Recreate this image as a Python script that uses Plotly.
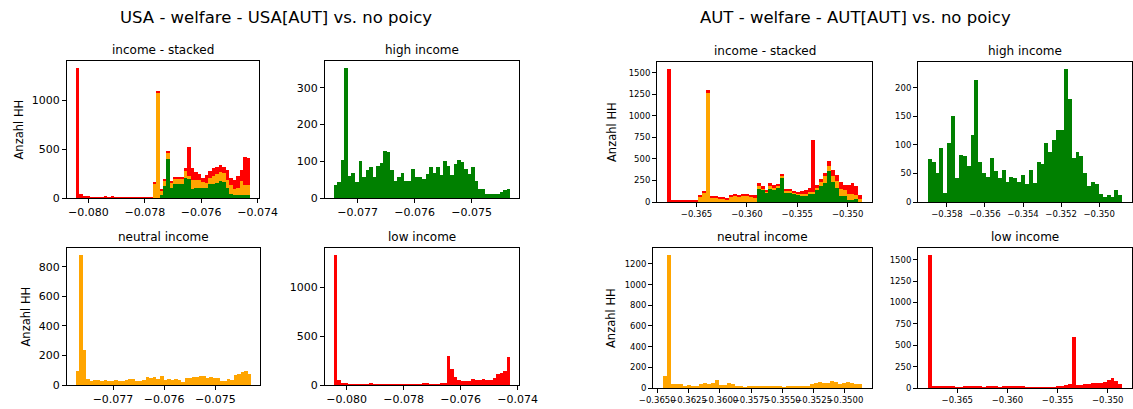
import numpy as np
import plotly.graph_objects as go

RED = "#ff0000"
ORANGE = "#ffa500"
GREEN = "#008000"
W, H = 1133, 409
FONT = "DejaVu Sans"

# ---------------- data: USA ----------------
usa_stack_range = (-0.08045, -0.07426)
usa_stack_high = [0]*24 + [31, 123, 399, 106, 147, 147, 140, 201, 191, 96, 106, 106, 106, 106, 140, 140,
                           157, 170, 160, 100, 45, 35, 30, 35, 30, 30]
usa_stack_neutral = [0]*22 + [147, 1078, 41, 58, 62, 51, 51, 51, 58, 75, 38, 85, 75, 78, 61, 44, 68, 85,
                              92, 100, 95, 80, 85, 60, 75, 140, 100, 100]
usa_stack_low = [1334, 44, 17, 17, 5, 5, 5, 5, 12, 5, 12, 4, 4, 4, 4, 4, 4, 4, 4, 6, 6, 6,
                 17, 14, 17, 17, 20, 17, 17, 17, 17, 35, 297, 129, 84, 61, 38, 85, 67, 80,
                 66, 70, 65, 103, 70, 90, 125, 110, 290, 283]

usa_high_range = (-0.077419, -0.074322)
usa_high = [35, 43, 103, 355, 59, 69, 43, 100, 57, 75, 84, 57, 88, 95, 127, 125, 75, 45, 57, 69,
            45, 45, 78, 57, 57, 51, 65, 84, 68, 84, 62, 100, 86, 62, 92, 103, 98, 80, 66, 84,
            45, 24, 24, 12, 12, 10, 12, 16, 21, 24]

usa_neutral_range = (-0.077728, -0.074298)
usa_neutral = [92, 883, 234, 38, 27, 32, 32, 25, 36, 25, 25, 36, 25, 25, 32, 43, 38, 25, 25, 36,
               52, 47, 52, 38, 59, 32, 41, 32, 41, 32, 20, 50, 45, 56, 52, 59, 59, 45, 56, 45,
               45, 27, 27, 41, 34, 68, 74, 86, 92, 74]

usa_low_range = (-0.08045, -0.07426)
usa_low = [1338, 48, 17, 17, 7, 7, 7, 7, 7, 7, 17, 7, 7, 7, 7, 7, 7, 7, 7, 7,
           7, 10, 10, 10, 10, 17, 17, 10, 10, 10, 17, 17, 294, 160, 82, 48, 38, 38, 38, 61,
           51, 51, 61, 51, 51, 75, 109, 119, 143, 283]

# ---------------- data: AUT ----------------
aut_stack_range = (-0.36795, -0.34855)
aut_stack_high = [0]*23 + [151, 140, 116, 151, 140, 163, 287, 116, 116, 97, 89, 78, 78, 89, 97, 143,
                           186, 225, 357, 233, 163, 70, 70, 27, 27, 39, 8]
aut_stack_neutral = [0]*8 + [66, 105, 1275, 50, 50, 39, 35, 19, 62, 70, 66, 70, 70, 66, 58, 43, 15, 8,
                             43, 23, 23, 23, 12, 20, 15, 8, 15, 15, 27, 19, 20, 47, 77, 58, 69, 77,
                             85, 66, 70, 70, 39, 23]
aut_stack_low = [1550, 27, 15, 15, 15, 15, 15, 15, 4, 23, 23, 16, 16, 15, 15, 24, 19, 19, 16, 19,
                 19, 12, 20, 23, 31, 12, 23, 31, 19, 16, 15, 15, 12, 12, 31, 47, 47, 605, 39, 38,
                 39, 58, 70, 70, 78, 66, 105, 128, 104, 47]

aut_high_range = (-0.359005, -0.348787)
aut_high = [76, 70, 51, 95, 16, 103, 151, 42, 83, 81, 63, 117, 213, 70, 51, 44, 77, 55, 42, 56,
            35, 44, 42, 35, 48, 32, 56, 33, 70, 67, 103, 88, 109, 126, 126, 233, 180, 77, 88, 81,
            51, 28, 35, 32, 14, 9, 12, 8, 21, 13]

aut_neutral_range = (-0.364543, -0.348629)
aut_neutral = [119, 1290, 42, 35, 35, 19, 32, 23, 13, 42, 52, 42, 52, 77, 32, 32, 48, 42, 19, 13,
               3, 23, 13, 23, 13, 13, 13, 13, 13, 13, 3, 13, 13, 13, 23, 23, 23, 35, 48, 61,
               48, 48, 71, 61, 42, 48, 61, 48, 42, 42]

aut_low_range = (-0.36795, -0.34855)
aut_low = [1558, 27, 15, 15, 15, 15, 15, 3, 3, 15, 15, 15, 15, 15, 3, 15, 15, 15, 3, 15,
           15, 15, 15, 15, 15, 3, 3, 3, 3, 3, 3, 3, 3, 15, 27, 39, 50, 592, 31, 39,
           42, 50, 62, 62, 62, 70, 97, 117, 86, 50]

# ---------------- tick values ----------------
usa_wide_ticks = [-0.080, -0.078, -0.076, -0.074]
usa_narrow_ticks = [-0.077, -0.076, -0.075]
aut_stack_ticks = [-0.365, -0.360, -0.355, -0.350]
aut_high_ticks = [-0.358, -0.356, -0.354, -0.352, -0.350]
aut_neutral_ticks = [-0.3650, -0.3625, -0.3600, -0.3575, -0.3550, -0.3525, -0.3500]

titles = ["income - stacked", "high income", "neutral income", "low income"]
suptitles = ["USA - welfare - USA[AUT] vs. no poicy", "AUT - welfare - AUT[AUT] vs. no poicy"]
ylabel = "Anzahl HH"


def fmt(vals, nd):
    return [f"{v:.{nd}f}".replace("-", "\u2212") for v in vals]


# panel: (x px domain, y px domain, range, series, xticks, ndec, yticks, tickfont, title, ylabel x px)
panels = [
    ((67, 259), (61, 198), usa_stack_range,
     [(usa_stack_high, GREEN), (usa_stack_neutral, ORANGE), (usa_stack_low, RED)],
     usa_wide_ticks, 3, [0, 500, 1000], 11, titles[0], 18),
    ((325, 519), (61, 198), usa_high_range, [(usa_high, GREEN)],
     usa_narrow_ticks, 3, [0, 100, 200, 300], 11, titles[1], None),
    ((67, 260), (248, 385), usa_neutral_range, [(usa_neutral, ORANGE)],
     usa_narrow_ticks, 3, [0, 200, 400, 600, 800], 11, titles[2], 25),
    ((325, 519), (248, 385), usa_low_range, [(usa_low, RED)],
     usa_wide_ticks, 3, [0, 500, 1000], 11, titles[3], None),
    ((657, 872), (62, 202), aut_stack_range,
     [(aut_stack_high, GREEN), (aut_stack_neutral, ORANGE), (aut_stack_low, RED)],
     aut_stack_ticks, 3, [0, 250, 500, 750, 1000, 1250, 1500], 8.5, titles[0], 612),
    ((918, 1132), (62, 202), aut_high_range, [(aut_high, GREEN)],
     aut_high_ticks, 3, [0, 50, 100, 150, 200], 8.5, titles[1], None),
    ((653, 872), (248, 388), aut_neutral_range, [(aut_neutral, ORANGE)],
     aut_neutral_ticks, 4, [0, 200, 400, 600, 800, 1000, 1200], 8.5, titles[2], 611),
    ((918, 1132), (248, 388), aut_low_range, [(aut_low, RED)],
     aut_stack_ticks, 3, [0, 250, 500, 750, 1000, 1250, 1500], 8.5, titles[3], None),
]

fig = go.Figure()
layout = dict(
    width=W, height=H, margin=dict(l=0, r=0, t=0, b=0, pad=0, autoexpand=False),
    paper_bgcolor="white", plot_bgcolor="white",
    showlegend=False, barmode="stack", bargap=0,
    font=dict(family=FONT, color="black"),
)
annotations = []

for i, (xd, yd, (lo, hi), series, xt, nd, yt, tfs, title, ylx) in enumerate(panels):
    k = "" if i == 0 else str(i + 1)
    n = len(series[0][0])
    edges = np.linspace(lo, hi, n + 1)
    centers = (edges[:-1] + edges[1:]) / 2
    width = (hi - lo) / n
    total = np.zeros(n)
    for counts, color in series:
        fig.add_trace(go.Bar(
            x=centers, y=counts, width=[width] * n,
            marker=dict(color=color, line=dict(width=0)),
            xaxis="x" + k, yaxis="y" + k, hoverinfo="x+y",
        ))
        total += np.array(counts)
    span = hi - lo
    xr = [lo - 0.05 * span, hi + 0.05 * span]
    yr = [0, 1.05 * total.max()]
    common = dict(showline=True, mirror=True, linecolor="black", linewidth=1,
                  ticks="outside", ticklen=4, tickwidth=1, tickcolor="black",
                  showgrid=False, zeroline=False, automargin=False, tickangle=0,
                  tickfont=dict(size=tfs, family=FONT, color="black"))
    layout["xaxis" + k] = dict(common, domain=[xd[0] / W, xd[1] / W], range=xr,
                               anchor="y" + k, tickvals=xt, ticktext=fmt(xt, nd))
    layout["yaxis" + k] = dict(common, domain=[1 - yd[1] / H, 1 - yd[0] / H], range=yr,
                               anchor="x" + k, tickvals=yt, ticktext=[str(v) for v in yt])
    annotations.append(dict(text=title, x=(xd[0] + xd[1]) / 2 / W, y=1 - (yd[0] - 11) / H,
                            xref="paper", yref="paper", showarrow=False,
                            xanchor="center", yanchor="middle",
                            font=dict(size=12, family=FONT)))
    if ylx is not None:
        annotations.append(dict(text=ylabel, x=ylx / W, y=1 - (yd[0] + yd[1]) / 2 / H,
                                xref="paper", yref="paper", showarrow=False, textangle=-90,
                                xanchor="center", yanchor="middle",
                                font=dict(size=11.5, family=FONT)))

for txt, cx in zip(suptitles, [276, 855]):
    annotations.append(dict(text=txt, x=cx / W, y=1 - 18 / H, xref="paper", yref="paper",
                            showarrow=False, xanchor="center", yanchor="middle",
                            font=dict(size=16.5, family=FONT)))

layout["annotations"] = annotations
fig.update_layout(**layout)
fig.write_html("out.html")
